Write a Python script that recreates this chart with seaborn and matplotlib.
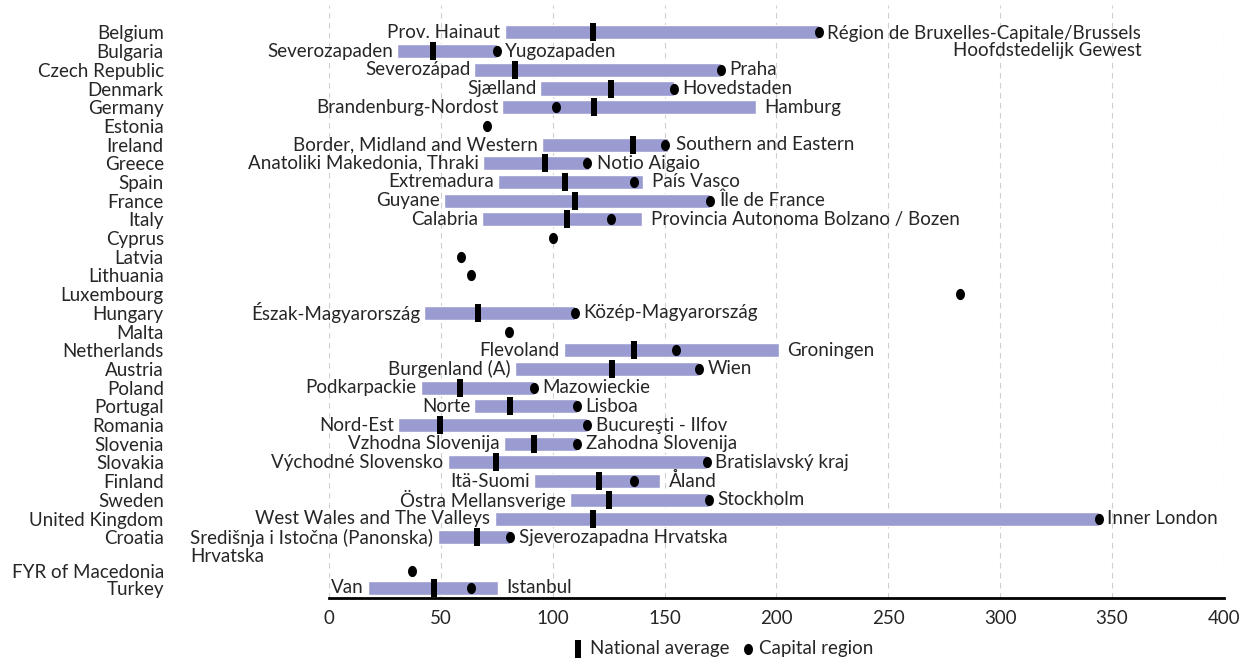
import numpy as np
import pandas as pd
import matplotlib
matplotlib.use("Agg")
import matplotlib.pyplot as plt
import seaborn as sns

nan = np.nan

# data
countries = ["Belgium", "Bulgaria", "Czech Republic", "Denmark", "Germany", "Estonia",
             "Ireland", "Greece", "Spain", "France", "Italy", "Cyprus", "Latvia",
             "Lithuania", "Luxembourg", "Hungary", "Malta", "Netherlands", "Austria",
             "Poland", "Portugal", "Romania", "Slovenia", "Slovakia", "Finland",
             "Sweden", "United Kingdom", "Croatia", "FYR of Macedonia", "Turkey"]
region_min = [78.5, 30.5, 65, 94.5, 77.5, nan, 95, 69, 75.5, 51.5, 68.5, nan, nan,
              nan, nan, 42.5, nan, 105, 83, 41, 65, 31, 78, 53, 91.5,
              107.5, 74, 48.5, nan, 17.5]
region_max = [219, 75, 175, 154, 191, nan, 151.5, 116, 140.5, 170.5, 140, nan, nan,
              nan, nan, 110, nan, 201, 165.5, 91.5, 111, 115.5, 111, 169, 148,
              170, 344, 81, nan, 75.5]
national_avg = [118, 46.5, 83, 126, 118.5, nan, 136, 96.5, 105.5, 110, 106.5, nan, nan,
                nan, nan, 66.5, nan, 136.5, 126.5, 58.5, 81, 49.5, 91.5, 74.5, 120.5,
                125, 118, 66, nan, 47]
capital = [219, 75, 175, 154, 101.5, 70.5, 150, 115.5, 136.5, 170.5, 126, 100, 59,
           63.5, 282, 110, 80.5, 155, 165.5, 91.5, 111, 115.5, 111, 169, 136.5,
           170, 344, 81, 37, 63.5]
min_labels = ["Prov. Hainaut", "Severozapaden", "Severozápad", "Sjælland",
              "Brandenburg-Nordost", "", "Border, Midland and Western",
              "Anatoliki Makedonia, Thraki", "Extremadura", "Guyane", "Calabria",
              "", "", "", "", "Észak-Magyarország", "", "Flevoland", "Burgenland (A)",
              "Podkarpackie", "Norte", "Nord-Est", "Vzhodna Slovenija",
              "Východné Slovensko", "Itä-Suomi", "Östra Mellansverige",
              "West Wales and The Valleys", "Središnja i Istočna (Panonska)\nHrvatska",
              "", "Van"]
max_labels = ["Région de Bruxelles-Capitale/Brussels\nHoofdstedelijk Gewest",
              "Yugozapaden", "Praha", "Hovedstaden", "Hamburg", "",
              "Southern and Eastern", "Notio Aigaio", "País Vasco", "Île de France",
              "Provincia Autonoma Bolzano / Bozen", "", "", "", "",
              "Közép-Magyarország", "", "Groningen", "Wien", "Mazowieckie", "Lisboa",
              "Bucureşti - Ilfov", "Zahodna Slovenija", "Bratislavský kraj", "Åland",
              "Stockholm", "Inner London", "Sjeverozapadna Hrvatska", "", "Istanbul"]

df = pd.DataFrame({"country": countries, "lo": region_min, "hi": region_max,
                   "nat": national_avg, "cap": capital,
                   "lo_lab": min_labels, "hi_lab": max_labels})
# row positions, with an extra gap after Croatia for the wrapped label
pos = np.arange(len(df), dtype=float)
pos[28:] += [0.8, 0.7]
df["pos"] = pos

sns.set_style("white")
plt.rcParams["font.family"] = ["Lato", "DejaVu Sans"]
fs = 13.5

fig = plt.figure(figsize=(12.54, 6.63), dpi=100)
ax = fig.add_axes([0.2624, 0.098, 0.7136, 0.894])

bars = df.dropna(subset=["lo", "hi"])
ax.barh(bars["pos"], bars["hi"] - bars["lo"], left=bars["lo"], height=0.75,
        color="#9a9bd0", zorder=2)

rect = [(-1, -3), (1, -3), (1, 3), (-1, 3)]
t = np.linspace(0, 2 * np.pi, 40)
ellipse = list(zip(0.8 * np.cos(t), np.sin(t)))
sns.scatterplot(data=df, x="nat", y="pos", marker=rect, s=150, color="black",
                linewidth=0, zorder=3, ax=ax, label="National average")
sns.scatterplot(data=df, x="cap", y="pos", marker=ellipse, s=65, color="black",
                linewidth=0, zorder=4, ax=ax, label="Capital region")

for _, r in df.iterrows():
    if r["lo_lab"]:
        n = r["lo_lab"].count("\n")
        ax.annotate(r["lo_lab"], (r["lo"], r["pos"]), xytext=(-3, -7 * n),
                    textcoords="offset points", ha="right", va="center",
                    multialignment="left", fontsize=fs, linespacing=1.05)
    if r["hi_lab"]:
        n = r["hi_lab"].count("\n")
        end = np.nanmax([r["hi"], r["cap"]])
        ax.annotate(r["hi_lab"], (end, r["pos"]), xytext=(6, -7 * n),
                    textcoords="offset points", ha="left", va="center",
                    multialignment="right", fontsize=fs, linespacing=1.05)

ax.set_xlim(0, 400)
ax.set_ylim(30.25, -1.45)
ax.set_xticks(range(0, 401, 50))
ax.set_yticks(df["pos"])
ax.set_yticklabels(df["country"], fontsize=fs)
ax.tick_params(axis="y", length=0, pad=119)
ax.tick_params(axis="x", direction="inout", length=7, width=1.5, labelsize=fs,
               pad=5, color="black")
ax.xaxis.grid(True, linestyle=(0, (5, 4)), color="#cfcfcf", linewidth=0.8, zorder=0)
ax.set_axisbelow(True)
for side in ["left", "right", "top"]:
    ax.spines[side].set_visible(False)
ax.spines["bottom"].set_linewidth(2)
ax.spines["bottom"].set_color("black")
ax.set_xlabel("")
ax.set_ylabel("")

handles, labels = ax.get_legend_handles_labels()
ax.get_legend().remove()
fig.legend(handles, labels, loc="center", bbox_to_anchor=(0.576, 0.022), ncol=2,
           frameon=False, fontsize=fs, handletextpad=0.2, columnspacing=0.6,
           handlelength=0.8)

fig.savefig("out.png", dpi=100)
